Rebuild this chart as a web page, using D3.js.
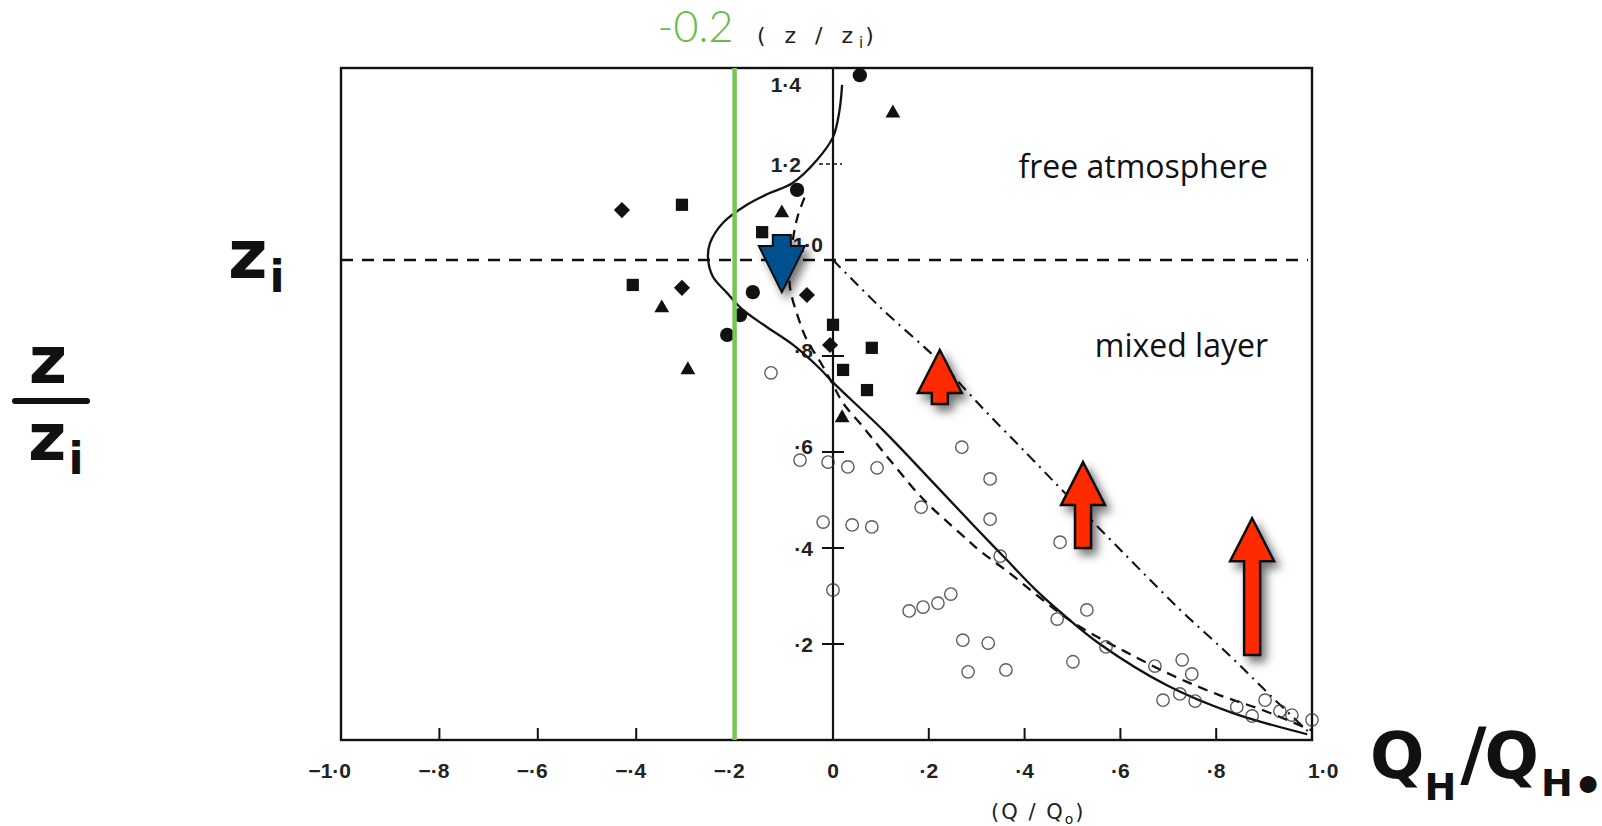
<!DOCTYPE html>
<html><head><meta charset="utf-8">
<script src="https://cdn.jsdelivr.net/npm/d3@7"></script>
<style>body{margin:0;background:#fff;} svg{display:block}</style>
</head><body>
<svg id="c" width="1602" height="826"></svg>
<script>
// ---------- data ----------
const xTicks = [-1.0,-0.8,-0.6,-0.4,-0.2,0,0.2,0.4,0.6,0.8,1.0];
const xTickLabels = ["−1·0","−·8","−·6","−·4","−·2","0","·2","·4","·6","·8","1·0"];
const yTicks = [0.2,0.4,0.6,0.8,1.0,1.2,1.4];
const yTickLabels = ["·2","·4","·6","·8","1·0","1·2","1·4"];

const solidCurve = [[0.019,1.365],[0.013,1.308],[0.0,1.256],[-0.033,1.208],[-0.083,1.16],[-0.132,1.138],[-0.175,1.115],[-0.224,1.077],[-0.25,1.035],[-0.254,1.004],[-0.244,0.965],[-0.215,0.931],[-0.183,0.896],[-0.134,0.86],[-0.081,0.823],[-0.026,0.773],[0.0,0.745],[0.107,0.643],[0.215,0.53],[0.30,0.44],[0.36,0.378],[0.42,0.316],[0.48,0.262],[0.557,0.2],[0.697,0.114],[0.835,0.056],[0.99,0.012]];
const dashedCurve = [[-0.058,1.13],[-0.072,1.09],[-0.082,1.04],[-0.088,0.99],[-0.087,0.94],[-0.071,0.881],[-0.053,0.833],[-0.026,0.788],[0.0,0.74],[0.021,0.702],[0.063,0.652],[0.119,0.583],[0.188,0.502],[0.265,0.431],[0.307,0.394],[0.363,0.352],[0.501,0.245],[0.614,0.182],[0.71,0.134],[0.808,0.093],[0.898,0.062],[1.0,0.02]];
const dashDotCurve = [[0,1.0],[0.098,0.902],[0.223,0.788],[0.28,0.726],[0.328,0.675],[0.376,0.626],[0.418,0.583],[0.501,0.497],[0.618,0.378],[0.724,0.272],[0.829,0.175],[0.916,0.09],[1.0,0.01]];

const filledCircles = [[0.056,1.385],[-0.073,1.146],[-0.163,0.933],[-0.189,0.885],[-0.215,0.844]];
const squares = [[-0.307,1.115],[-0.144,1.058],[-0.407,0.948],[0.0,0.865],[0.081,0.817],[0.021,0.771],[0.071,0.729]];
const diamonds = [[-0.429,1.104],[-0.307,0.942],[-0.053,0.927],[-0.006,0.823]];
const triangles = [[0.125,1.306],[-0.104,1.098],[-0.348,0.9],[-0.295,0.771],[0.019,0.671]];
const openCircles = [[-0.126,0.765],[-0.067,0.583],[-0.010,0.579],[0.031,0.569],[0.092,0.567],[-0.020,0.454],[0.040,0.448],[0.081,0.444],[0.0,0.3125],[0.184,0.485],[0.269,0.610],[0.328,0.544],[0.328,0.460],[0.349,0.383],[0.474,0.412],[0.530,0.271],[0.468,0.252],[0.570,0.194],[0.501,0.163],[0.159,0.269],[0.188,0.277],[0.219,0.285],[0.246,0.304],[0.271,0.208],[0.324,0.202],[0.282,0.142],[0.361,0.146],[0.672,0.154],[0.729,0.167],[0.749,0.1375],[0.689,0.083],[0.724,0.096],[0.756,0.081],[0.843,0.069],[0.875,0.05],[0.902,0.083],[0.933,0.060],[0.958,0.052],[1.0,0.042]];

const redArrows = [ {x:0.223, tip:0.8125, base:0.70}, {x:0.522, tip:0.579, base:0.40}, {x:0.875, tip:0.462, base:0.177} ];
const blueArrow = {x:-0.104, top:1.052, tip:0.933};
const greenLineX = -0.2;
const ziLevel = 1.0;

// ---------- scales ----------
const svg = d3.select("#c");
const x = d3.scaleLinear().domain([-1,0,1]).range([341,833,1312]);
const y = d3.scaleLinear().domain([0,1.4]).range([740,68]);
const x0 = x(0);

const defs = svg.append("defs");
const f = defs.append("filter").attr("id","sh").attr("x","-50%").attr("y","-50%").attr("width","200%").attr("height","200%");
f.append("feDropShadow").attr("dx",5).attr("dy",6).attr("stdDeviation",5).attr("flood-color","#000").attr("flood-opacity",0.55);

// frame
svg.append("rect").attr("x",x(-1)).attr("y",y(1.4)).attr("width",x(1)-x(-1)).attr("height",y(0)-y(1.4))
  .attr("fill","none").attr("stroke","#111").attr("stroke-width",2.4);
svg.append("line").attr("x1",x0).attr("x2",x0).attr("y1",y(1.4)).attr("y2",y(0)).attr("stroke","#111").attr("stroke-width",2.2);

// x ticks
svg.append("g").selectAll("line").data(xTicks.filter(v=>Math.abs(v)>0.01 && Math.abs(v)<0.99)).join("line")
  .attr("x1",d=>x(d)).attr("x2",d=>x(d)).attr("y1",y(0)).attr("y2",y(0)-12).attr("stroke","#111").attr("stroke-width",2);
svg.append("g").selectAll("text").data(xTicks).join("text")
  .attr("x",d=>d<0 ? x(d)+10 : (d>0.99? x(d)-4 : x(d)))
  .attr("y",778)
  .attr("text-anchor",d=>d<0?"end":(d>0.99?"start":"middle"))
  .attr("font-family","Liberation Sans, Arial, sans-serif").attr("font-weight","bold").attr("font-size",21).attr("fill","#222")
  .text((d,i)=>xTickLabels[i]);

// y ticks
svg.append("g").selectAll("line").data(yTicks.filter(v=>v<0.9)).join("line")
  .attr("x1",x0-11).attr("x2",x0+11).attr("y1",d=>y(d)).attr("y2",d=>y(d)).attr("stroke","#111").attr("stroke-width",2);
svg.append("line").attr("x1",x0-14).attr("x2",x0+9).attr("y1",y(1.2)).attr("y2",y(1.2)).attr("stroke","#111").attr("stroke-width",1.5).attr("stroke-dasharray","4,3");
svg.append("g").selectAll("text").data(yTicks).join("text")
  .attr("x",d=> d>1.1 ? x0-32 : (d>0.9 ? x0-10 : x0-20))
  .attr("y",d=> d>1.3 ? y(d)+24 : (d>0.9 && d<1.1 ? y(d)-8 : (d>0.5 && d<0.9 ? y(d)+2 : y(d)+8)))
  .attr("text-anchor","end")
  .attr("font-family","Liberation Sans, Arial, sans-serif").attr("font-weight","bold").attr("font-size",21).attr("fill","#222")
  .text((d,i)=>yTickLabels[i]);

// curves
const line = d3.line().x(d=>x(d[0])).y(d=>y(d[1])).curve(d3.curveCatmullRom.alpha(0.5));
svg.append("path").attr("d",line(solidCurve)).attr("fill","none").attr("stroke","#111").attr("stroke-width",2.3);
svg.append("path").attr("d",line(dashedCurve)).attr("fill","none").attr("stroke","#111").attr("stroke-width",2.3).attr("stroke-dasharray","10,7");
svg.append("path").attr("d",line(dashDotCurve)).attr("fill","none").attr("stroke","#111").attr("stroke-width",2.1).attr("stroke-dasharray","11,6,2,6");

// z_i dashed line
svg.append("line").attr("x1",x(-1)).attr("x2",x(1)-4).attr("y1",y(ziLevel)).attr("y2",y(ziLevel))
  .attr("stroke","#111").attr("stroke-width",2.6).attr("stroke-dasharray","12,9");

// points
const sym = (type,size)=>d3.symbol().type(type).size(size)();
const pts = svg.append("g");
pts.selectAll(".oc").data(openCircles).join("circle").attr("class","oc")
  .attr("cx",d=>x(d[0])).attr("cy",d=>y(d[1])).attr("r",6.2).attr("fill","none").attr("stroke","#333").attr("stroke-width",1.4).attr("opacity",0.8);
pts.selectAll(".fc").data(filledCircles).join("path").attr("class","fc")
  .attr("transform",d=>`translate(${x(d[0])},${y(d[1])})`).attr("d",sym(d3.symbolCircle,160)).attr("fill","#111");
pts.selectAll(".sq").data(squares).join("path").attr("class","sq")
  .attr("transform",d=>`translate(${x(d[0])},${y(d[1])})`).attr("d",sym(d3.symbolSquare,150)).attr("fill","#111");
pts.selectAll(".dm").data(diamonds).join("path").attr("class","dm")
  .attr("transform",d=>`translate(${x(d[0])},${y(d[1])}) rotate(45)`).attr("d",sym(d3.symbolSquare,130)).attr("fill","#111");
pts.selectAll(".tr").data(triangles).join("path").attr("class","tr")
  .attr("transform",d=>`translate(${x(d[0])},${y(d[1])})`).attr("d",sym(d3.symbolTriangle,95)).attr("fill","#111");

// green line
svg.append("line").attr("x1",x(greenLineX)).attr("x2",x(greenLineX)).attr("y1",y(1.4)).attr("y2",y(0))
  .attr("stroke","#79c45a").attr("stroke-width",4.5);
svg.append("text").attr("x",x(greenLineX)-77).attr("y",42).attr("font-family","Lato, sans-serif").attr("font-weight",300)
  .attr("font-size",43).attr("fill","#6abb45").text("-0.2");

// arrows
function upArrow(cx,tipY,botY){
  const hh=43, hw=22, sw=8;
  return `M${cx},${tipY} L${cx+hw},${tipY+hh} L${cx+sw},${tipY+hh} L${cx+sw},${botY} L${cx-sw},${botY} L${cx-sw},${tipY+hh} L${cx-hw},${tipY+hh} Z`;
}
svg.append("g").selectAll("path").data(redArrows).join("path")
  .attr("d",d=>upArrow(x(d.x),y(d.tip),y(d.base)))
  .attr("fill","#ff2a00").attr("stroke","#111").attr("stroke-width",2.5).attr("stroke-linejoin","miter").attr("filter","url(#sh)");
{
  const cx=x(blueArrow.x), t=y(blueArrow.top), tip=y(blueArrow.tip);
  const sb=t+11, hw=23, sw=9;
  svg.append("path").attr("d",`M${cx-sw},${t} L${cx+sw},${t} L${cx+sw},${sb} L${cx+hw},${sb} L${cx},${tip} L${cx-hw},${sb} L${cx-sw},${sb} Z`)
    .attr("fill","#04508f").attr("stroke","#111").attr("stroke-width",2).attr("filter","url(#sh)");
}

// texts
svg.append("text").attr("x",1268).attr("y",178).attr("text-anchor","end").attr("font-family","Open Sans, sans-serif")
  .attr("font-size",32).attr("fill","#111").text("free atmosphere");
svg.append("text").attr("x",1268).attr("y",357).attr("text-anchor","end").attr("font-family","Open Sans, sans-serif")
  .attr("font-size",32).attr("fill","#111").text("mixed layer");

const topLab = svg.append("text").attr("x",757).attr("y",43).attr("font-family","DejaVu Sans, sans-serif").attr("font-size",22)
  .attr("fill","#222").attr("letter-spacing",6);
topLab.append("tspan").text("( z / z");
topLab.append("tspan").attr("font-size",15).attr("dy",5).attr("letter-spacing",2).text("i");
topLab.append("tspan").attr("dy",-5).text(")");

const botLab = svg.append("text").attr("x",991).attr("y",819).attr("font-family","DejaVu Sans, sans-serif").attr("font-size",21)
  .attr("fill","#222").attr("letter-spacing",2);
botLab.append("tspan").text("(Q / Q");
botLab.append("tspan").attr("font-size",14).attr("dy",5).text("o");
botLab.append("tspan").attr("dy",-5).text(")");

// big handwritten-style labels
const hw = "DejaVu Sans, sans-serif";
const zi = svg.append("text").attr("x",228).attr("y",278).attr("font-family",hw).attr("font-weight","bold").attr("font-size",68).attr("fill","#111");
zi.append("tspan").text("z");
zi.append("tspan").attr("font-size",44).attr("dy",14).attr("dx",2).text("i");

svg.append("text").attr("x",48).attr("y",383).attr("text-anchor","middle").attr("font-family",hw).attr("font-weight","bold").attr("font-size",66).attr("fill","#111").text("z");
svg.append("line").attr("x1",15).attr("x2",87).attr("y1",401).attr("y2",401).attr("stroke","#111").attr("stroke-width",6).attr("stroke-linecap","round");
const zz = svg.append("text").attr("x",28).attr("y",460).attr("font-family",hw).attr("font-weight","bold").attr("font-size",66).attr("fill","#111");
zz.append("tspan").text("z");
zz.append("tspan").attr("font-size",44).attr("dy",14).attr("dx",2).text("i");

const q = svg.append("text").attr("x",1370).attr("y",778).attr("font-family",hw).attr("font-weight","bold").attr("font-size",64).attr("fill","#111");
q.append("tspan").text("Q");
q.append("tspan").attr("font-size",38).attr("dy",22).text("H");
q.append("tspan").attr("font-size",72).attr("dy",-22).attr("dx",4).text("/");
q.append("tspan").attr("dx",-2).text("Q");
q.append("tspan").attr("font-size",38).attr("dy",18).attr("dx",2).text("H");
q.append("tspan").attr("font-size",48).attr("dy",6).text("•");
</script>
</body></html>
